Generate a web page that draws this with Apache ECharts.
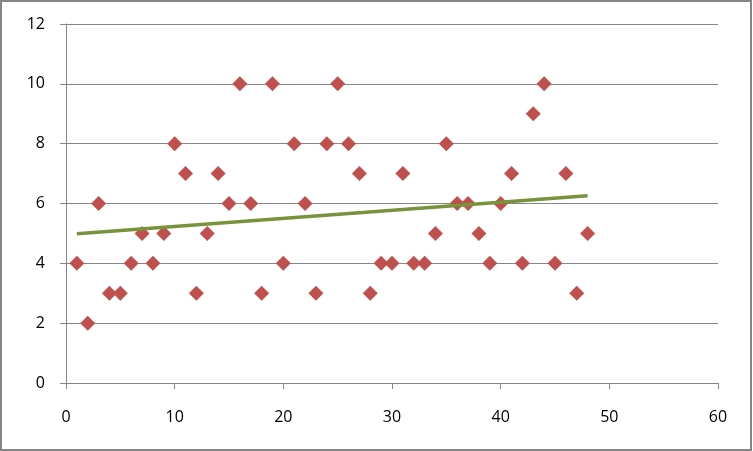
<!DOCTYPE html>
<html>
<head>
<meta charset="utf-8">
<script src="https://cdn.jsdelivr.net/npm/echarts@6/dist/echarts.min.js"></script>
<style>
  html, body { margin: 0; padding: 0; background: #fff; }
  #main { position: absolute; left: 0; top: 0; width: 753px; height: 451px; }
  #frame { position: absolute; left: 0; top: 0; width: 752px; height: 451px;
           box-sizing: border-box; border: 2px solid #868686; pointer-events: none; }
</style>
</head>
<body>
<div id="main"></div>
<div id="frame"></div>
<script>
// sample number and observed value
var xValues = [1, 2, 3, 4, 5, 6, 7, 8, 9, 10, 11, 12, 13, 14, 15, 16, 17, 18, 19, 20, 21, 22, 23, 24,
               25, 26, 27, 28, 29, 30, 31, 32, 33, 34, 35, 36, 37, 38, 39, 40, 41, 42, 43, 44, 45, 46, 47, 48];
var yValues = [4, 2, 6, 3, 3, 4, 5, 4, 5, 8, 7, 3, 5, 7, 6, 10, 6, 3, 10, 4, 8, 6, 3, 8,
               10, 8, 7, 3, 4, 4, 7, 4, 4, 5, 8, 6, 6, 5, 4, 6, 7, 4, 9, 10, 4, 7, 3, 5];

var xTicks = [0, 10, 20, 30, 40, 50, 60];
var yTicks = [0, 2, 4, 6, 8, 10, 12];

var points = xValues.map(function (x, i) { return [x, yValues[i]]; });

// linear trend line (least squares) from the data
var n = xValues.length, sx = 0, sy = 0, sxy = 0, sxx = 0;
for (var i = 0; i < n; i++) {
  sx += xValues[i]; sy += yValues[i];
  sxy += xValues[i] * yValues[i]; sxx += xValues[i] * xValues[i];
}
var slope = (n * sxy - sx * sy) / (n * sxx - sx * sx);
var intercept = (sy - slope * sx) / n;
var xFirst = xValues[0], xLast = xValues[n - 1];
var trend = [[xFirst, intercept + slope * xFirst], [xLast, intercept + slope * xLast]];

var myChart = echarts.init(document.getElementById('main'));

var option = {
  animation: false,
  textStyle: { fontFamily: 'Open Sans', color: '#000' },
  grid: { left: 66, right: 35, top: 24, bottom: 68, containLabel: false },
  xAxis: {
    type: 'value',
    min: xTicks[0],
    max: xTicks[xTicks.length - 1],
    interval: 10,
    axisLine: { show: true, onZero: false, lineStyle: { color: '#868686', width: 1 } },
    axisTick: { show: true, length: 6, lineStyle: { color: '#868686' } },
    axisLabel: { color: '#000', fontSize: 16, margin: 26, fontFamily: 'Open Sans' },
    splitLine: { show: false }
  },
  yAxis: {
    type: 'value',
    min: yTicks[0],
    max: yTicks[yTicks.length - 1],
    interval: 2,
    axisLine: { show: true, onZero: false, lineStyle: { color: '#868686', width: 1 } },
    axisTick: { show: true, length: 6, lineStyle: { color: '#868686' } },
    axisLabel: { color: '#000', fontSize: 16, margin: 21, fontFamily: 'Open Sans' },
    splitLine: { show: true, lineStyle: { color: '#868686', width: 1 } }
  },
  series: [
    {
      name: 'values',
      type: 'scatter',
      symbol: 'diamond',
      symbolSize: 15,
      itemStyle: { color: '#C0504D', opacity: 1 },
      data: points,
      z: 2
    },
    {
      name: 'trend',
      type: 'line',
      data: trend,
      symbol: 'none',
      lineStyle: { color: '#77933C', width: 3.5 },
      z: 3
    }
  ]
};

myChart.setOption(option);
</script>
</body>
</html>
